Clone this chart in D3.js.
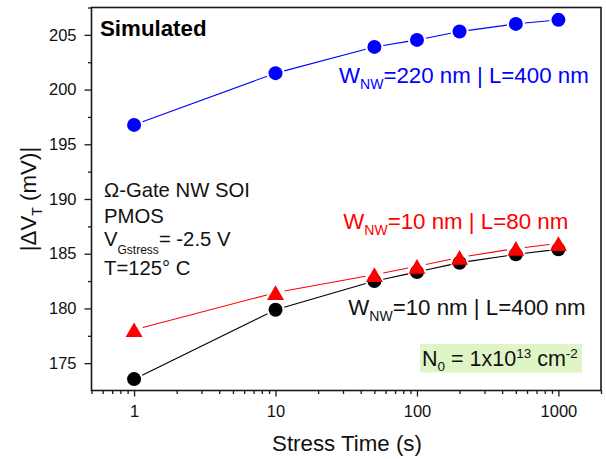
<!DOCTYPE html>
<html>
<head>
<meta charset="utf-8">
<script src="https://cdn.jsdelivr.net/npm/d3@7"></script>
<style>
  body { margin: 0; background: #fff; }
  text { font-family: "Liberation Sans", Arial, sans-serif; }
</style>
</head>
<body>
<div id="chart"></div>
<script>
// data
let stressTime = [1, 10, 50, 100, 200, 500, 1000];
let dvtW220L400 = [196.77, 201.5, 203.9, 204.54, 205.3, 206.0, 206.37];
let dvtW10L80 = [178.05, 181.44, 183.08, 183.85, 184.66, 185.48, 185.93];
let dvtW10L400 = [173.54, 179.88, 182.5, 183.33, 184.18, 184.94, 185.4];
let xTicks = [1, 10, 100, 1000];
let yTicks = [175, 180, 185, 190, 195, 200, 205];

let svgWidth = 606;
let svgHeight = 459;
let margin = { top: 7.5, right: 5, bottom: 68.5, left: 91.5 };
let width = svgWidth - margin.left - margin.right;
let height = svgHeight - margin.top - margin.bottom;

let svg = d3.select("#chart")
  .append("svg")
  .attr("width", svgWidth)
  .attr("height", svgHeight);

let chartGroup = svg.append("g")
  .attr("transform", `translate(${margin.left}, ${margin.top})`);

// scales
let xScale = d3.scaleLog().domain([0.5, 2000]).range([0, width]);
let yScale = d3.scaleLinear().domain([172.5, 207.5]).range([height, 0]);

// minor tick values
let xMinor = [];
[0.1, 1, 10, 100, 1000].forEach(function(dec) {
  for (let k = 2; k <= 9; k++) {
    let v = k * dec;
    if (v >= 0.5 && v <= 2000) xMinor.push(v);
  }
});
let yMinor = d3.range(177.5, 208, 5);

let axisColor = "#1a1a1a";

// axes
let bottomAxis = d3.axisBottom(xScale).tickValues(xTicks).tickFormat(d3.format("d"))
  .tickSizeInner(6).tickSizeOuter(0).tickPadding(9);
let bottomMinor = d3.axisBottom(xScale).tickValues(xMinor).tickFormat("")
  .tickSizeInner(3.5).tickSizeOuter(0);
let leftAxis = d3.axisLeft(yScale).tickValues(yTicks).tickFormat(d3.format("d"))
  .tickSizeInner(7).tickSizeOuter(0).tickPadding(8);
let leftMinor = d3.axisLeft(yScale).tickValues(yMinor).tickFormat("")
  .tickSizeInner(3.5).tickSizeOuter(0);

function styleAxis(g) {
  g.select(".domain").remove();
  g.selectAll("line").attr("stroke", axisColor).attr("stroke-width", 1.3);
  g.selectAll("text").attr("fill", "#111").style("font-size", "16.5px")
    .style("font-family", "'Liberation Sans', Arial, sans-serif");
}

chartGroup.append("g").attr("transform", `translate(0, ${height})`).call(bottomAxis).call(styleAxis);
chartGroup.append("g").attr("transform", `translate(0, ${height})`).call(bottomMinor).call(styleAxis);
chartGroup.append("g").call(leftAxis).call(styleAxis);
chartGroup.append("g").call(leftMinor).call(styleAxis);

// frame
chartGroup.append("rect")
  .attr("x", 0).attr("y", 0)
  .attr("width", width).attr("height", height)
  .attr("fill", "none")
  .attr("stroke", axisColor)
  .attr("stroke-width", 1.6);

// triangle centred on its bounding box
let triangleBox = {
  draw: function(context, size) {
    let w = Math.sqrt(size * 4 / Math.sqrt(3));
    let h = w * Math.sqrt(3) / 2;
    context.moveTo(0, -h / 2);
    context.lineTo(w / 2, h / 2);
    context.lineTo(-w / 2, h / 2);
    context.closePath();
  }
};

function drawSeries(values, color, shape, gap) {
  let pts = stressTime.map((t, i) => [xScale(t), yScale(values[i])]);
  // connecting segments, stopping short of each marker
  for (let i = 0; i < pts.length - 1; i++) {
    let [x1, y1] = pts[i], [x2, y2] = pts[i + 1];
    let len = Math.hypot(x2 - x1, y2 - y1);
    let ux = (x2 - x1) / len, uy = (y2 - y1) / len;
    if (len <= 2 * gap) continue;
    chartGroup.append("line")
      .attr("x1", x1 + ux * gap).attr("y1", y1 + uy * gap)
      .attr("x2", x2 - ux * gap).attr("y2", y2 - uy * gap)
      .attr("stroke", color).attr("stroke-width", 1.1);
  }
  let sym = d3.symbol().type(shape === "circle" ? d3.symbolCircle : triangleBox)
    .size(shape === "circle" ? Math.PI * 7 * 7 : 125);
  chartGroup.selectAll(null)
    .data(pts)
    .enter()
    .append("path")
    .attr("d", sym)
    .attr("transform", d => `translate(${d[0]}, ${d[1]})`)
    .attr("fill", color);
}

drawSeries(dvtW10L400, "#000000", "circle", 9);
drawSeries(dvtW10L80, "#ff0000", "triangle", 9);
drawSeries(dvtW220L400, "#0000ff", "circle", 9);

// text helpers (absolute svg coords)
function label(x, y, parts, color, size, weight) {
  let t = svg.append("text")
    .attr("x", x).attr("y", y)
    .attr("fill", color)
    .style("font-size", size + "px")
    .style("font-weight", weight || "normal");
  parts.forEach(function(p) {
    let s = t.append("tspan").text(p.text);
    if (p.sub) s.attr("dy", p.dy).style("font-size", p.sub + "px");
  });
  return t;
}

label(100, 36, [{ text: "Simulated" }], "#000", 22.3, "bold");

label(339, 83.3, [
  { text: "W" }, { text: "NW", sub: 14, dy: 6 }, { text: "=220 nm | L=400 nm", sub: 22.3, dy: -6 }
], "#0000ff", 22.3);

label(343.3, 229.3, [
  { text: "W" }, { text: "NW", sub: 14, dy: 6 }, { text: "=10 nm | L=80 nm", sub: 22.3, dy: -6 }
], "#ff0000", 22.3);

label(348.3, 315, [
  { text: "W" }, { text: "NW", sub: 14, dy: 6 }, { text: "=10 nm | L=400 nm", sub: 22.3, dy: -6 }
], "#111", 22.3);

// device info
label(104, 196.7, [{ text: "\u03A9-Gate NW SOI" }], "#111", 20.3);
label(104, 223.3, [{ text: "PMOS" }], "#111", 20.3);
label(104, 246, [
  { text: "V" }, { text: "Gstress", sub: 12, dy: 8 }, { text: "= -2.5 V", sub: 20.3, dy: -8 }
], "#111", 20.3);
label(104, 275, [{ text: "T=125\u00B0 C" }], "#111", 20.3);

// N0 box
svg.append("rect")
  .attr("x", 420).attr("y", 344)
  .attr("width", 162).attr("height", 28.5)
  .attr("fill", "#e0f5c6");
label(422, 366, [
  { text: "N" }, { text: "0", sub: 13.5, dy: 5 }, { text: " = 1x10", sub: 21.5, dy: -5 },
  { text: "13", sub: 13.5, dy: -8 }, { text: " cm", sub: 21.5, dy: 8 }, { text: "-2", sub: 13.5, dy: -8 }
], "#111", 21.5);

// axis titles
label(347, 451, [{ text: "Stress Time (s)" }], "#111", 22.3).attr("text-anchor", "middle");

svg.append("text")
  .attr("transform", "translate(36, 199) rotate(-90)")
  .attr("text-anchor", "middle")
  .attr("fill", "#111")
  .style("font-size", "22.3px")
  .call(function(t) {
    t.append("tspan").text("|\u0394V");
    t.append("tspan").text("T").attr("dy", 6).style("font-size", "14px");
    t.append("tspan").text(" (mV)|").attr("dy", -6).style("font-size", "22.3px");
  });
</script>
</body>
</html>
